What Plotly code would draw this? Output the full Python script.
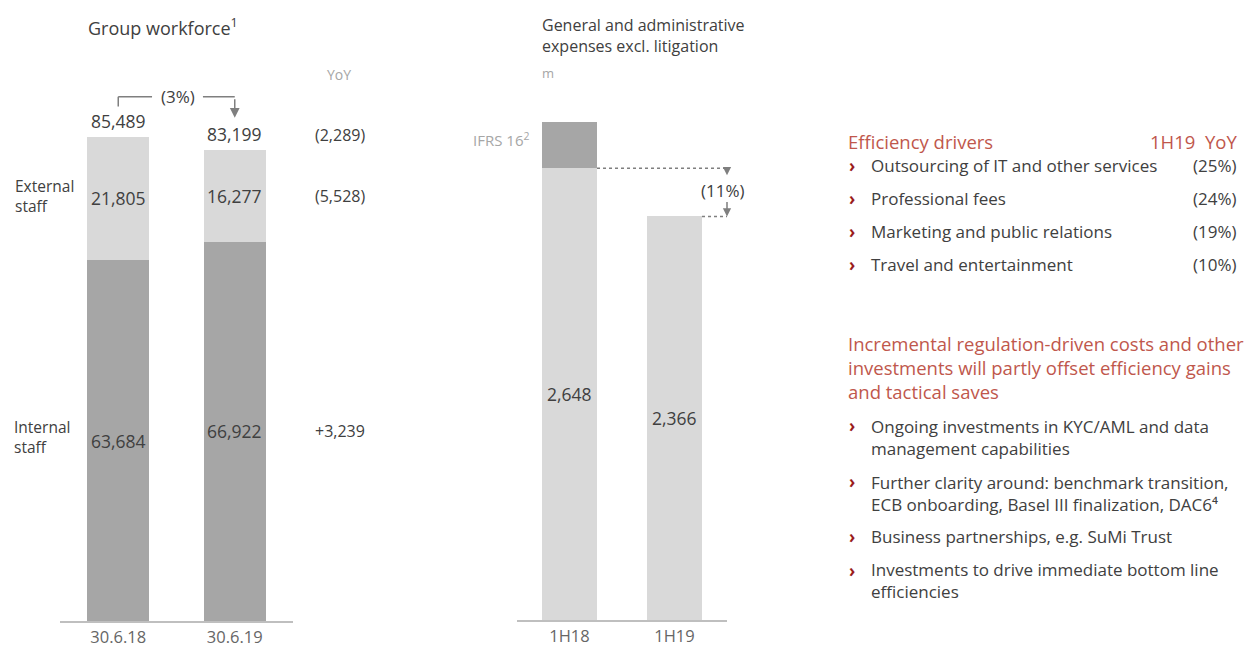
import plotly.graph_objects as go

# ---------------- data ----------------
dates = ["30.6.18", "30.6.19"]
internal_staff = [63684, 66922]
external_staff = [21805, 16277]
workforce_total = [85489, 83199]
workforce_yoy = ["(2,289)", "(5,528)", "+3,239"]
workforce_change = "(3%)"

periods = ["1H18", "1H19"]
ga_excl = [2648, 2366]
ifrs16 = [270, 0]
ga_change = "(11%)"

drivers = ["Outsourcing of IT and other services", "Professional fees",
           "Marketing and public relations", "Travel and entertainment"]
drivers_yoy = ["(25%)", "(24%)", "(19%)", "(10%)"]
offsets = ["Ongoing investments in KYC/AML and data<br>management capabilities",
           "Further clarity around: benchmark transition,<br>ECB onboarding, Basel III finalization, DAC6⁴",
           "Business partnerships, e.g. SuMi Trust",
           "Investments to drive immediate bottom line<br>efficiencies"]

# ---------------- style ----------------
W, H = 1244, 648
FONT = "Open Sans"
DARK = "#a6a6a6"
LIGHT = "#d9d9d9"
TXT = "#404040"
GREY = "#a6a6a6"
RED = "#c0574c"
BULLET = "#9b1c1c"
NUM = 17.5
BODY = 17
REDSZ = 18.5

def px(x):
    return x / W

def py(y):
    return 1 - y / H

fig = go.Figure()

BW1 = 0.53
fig.add_trace(go.Bar(x=dates, y=internal_staff, marker_color=DARK, width=BW1,
                     xaxis="x", yaxis="y", hoverinfo="skip", marker_line_width=0))
fig.add_trace(go.Bar(x=dates, y=external_staff, marker_color=LIGHT, width=BW1,
                     xaxis="x", yaxis="y", hoverinfo="skip", marker_line_width=0))

BW2 = 0.524
fig.add_trace(go.Bar(x=periods, y=ga_excl, marker_color=LIGHT, width=BW2,
                     xaxis="x2", yaxis="y2", hoverinfo="skip", marker_line_width=0))
fig.add_trace(go.Bar(x=periods, y=ifrs16, marker_color=DARK, width=BW2,
                     xaxis="x2", yaxis="y2", hoverinfo="skip", marker_line_width=0))

ann = []
shapes = []

def A(text, x, y, xref, yref, size=NUM, color=TXT, xanchor="center", yanchor="middle", align="center", **kw):
    ann.append(dict(text=text, x=x, y=y, xref=xref, yref=yref, showarrow=False,
                    font=dict(family=FONT, size=size, color=color),
                    xanchor=xanchor, yanchor=yanchor, align=align, **kw))

# ---- left chart labels ----
for i in range(2):
    A(f"{internal_staff[i]:,}", i, internal_staff[i] / 2, "x", "y")
    A(f"{external_staff[i]:,}", i, internal_staff[i] + external_staff[i] / 2, "x", "y")
    A(f"{workforce_total[i]:,}", i, workforce_total[i], "x", "y", yanchor="bottom", yshift=2)

# YoY column (placed in paper x, data y so it lines up with the 30.6.19 labels)
A(workforce_yoy[0], px(340), workforce_total[1], "paper", "y", size=16, yanchor="bottom", yshift=2)
A(workforce_yoy[1], px(340), internal_staff[1] + external_staff[1] / 2, "paper", "y", size=16)
A(workforce_yoy[2], px(340), internal_staff[1] / 2, "paper", "y", size=16)
A("YoY", px(339), max(workforce_total) * 1.128, "paper", "y", size=14, color=GREY)

A("External<br>staff", px(13), py(197), "paper", "paper", size=15.5, xanchor="left", align="left")
A("Internal<br>staff", px(12), py(438), "paper", "paper", size=15.5, xanchor="left", align="left")
A("Group workforce<sup>1</sup>", px(86), py(27), "paper", "paper", size=18, xanchor="left")

# bracket (3%)
yb = max(workforce_total) * 1.0823
ytick = max(workforce_total) * 1.062
line = dict(color="#7f7f7f", width=1.5)
shapes.append(dict(type="line", xref="x", yref="y", x0=0, x1=0, y0=ytick, y1=yb, line=line))
shapes.append(dict(type="line", xref="x", yref="y", x0=0, x1=0.29, y0=yb, y1=yb, line=line))
shapes.append(dict(type="line", xref="x", yref="y", x0=0.727, x1=1, y0=yb, y1=yb, line=line))
ann.append(dict(x=1, y=workforce_total[1] * 1.0677, xref="x", yref="y", ax=0, ay=-20,
                axref="pixel", ayref="pixel", showarrow=True, arrowhead=2, arrowsize=1.3,
                arrowwidth=1.5, arrowcolor="#7f7f7f", text="", standoff=0))
A(workforce_change, 0.51, yb, "x", "y", size=17)

# ---- middle chart labels ----
for i in range(2):
    A(f"{ga_excl[i]:,}", i, ga_excl[i] / 2, "x2", "y2")
A("IFRS 16<sup>2</sup>", -0.37, ga_excl[0] + ifrs16[0] * 0.62, "x2", "y2", size=15, color=GREY, xanchor="right")
A("General and administrative<br>expenses excl. litigation", px(540), py(36), "paper", "paper",
  size=16, xanchor="left", align="left")
A("m", px(540), py(73), "paper", "paper", size=13, color=GREY, xanchor="left")

dot = dict(color="#7f7f7f", width=1.5, dash="dot")
shapes.append(dict(type="line", xref="x2", yref="y2", x0=BW2 / 2, x1=1.5, y0=ga_excl[0], y1=ga_excl[0], line=dot))
shapes.append(dict(type="line", xref="x2", yref="y2", x0=1 + BW2 / 2, x1=1.5, y0=ga_excl[1], y1=ga_excl[1], line=dot))
ann.append(dict(x=1.5, y=ga_excl[0] * 0.985, xref="x2", yref="y2", ax=0, ay=-6,
                axref="pixel", ayref="pixel", showarrow=True, arrowhead=2, arrowsize=1.1,
                arrowwidth=1.5, arrowcolor="#7f7f7f", text="", standoff=0))
ann.append(dict(x=1.5, y=ga_excl[1], xref="x2", yref="y2", ax=0, ay=-16,
                axref="pixel", ayref="pixel", showarrow=True, arrowhead=2, arrowsize=1.1,
                arrowwidth=1.5, arrowcolor="#7f7f7f", text="", standoff=0))
A(ga_change, 1.46, (ga_excl[0] + ga_excl[1]) / 2 + 10, "x2", "y2", size=17)

# ---- right text ----
A("Efficiency drivers", px(846), py(142), "paper", "paper", size=REDSZ, color=RED, xanchor="left")
A("1H19  YoY", px(1239), py(142), "paper", "paper", size=REDSZ, color=RED, xanchor="right")
rows = [166, 199, 232, 265]
for t, v, y in zip(drivers, drivers_yoy, rows):
    A("<b>›</b>", px(847), py(y), "paper", "paper", size=BODY, color=BULLET, xanchor="left")
    A(t, px(869), py(y), "paper", "paper", size=BODY, xanchor="left")
    A(v, px(1239), py(y), "paper", "paper", size=BODY, xanchor="right")

A("Incremental regulation-driven costs and other<br>investments will partly offset efficiency gains<br>and tactical saves",
  px(846), py(369), "paper", "paper", size=REDSZ, color=RED, xanchor="left", align="left")
orow = [[427, 450], [483, 507], [538], [572, 593]]
for t, ys in zip(offsets, orow):
    A("<b>›</b>", px(847), py(ys[0]), "paper", "paper", size=BODY, color=BULLET, xanchor="left")
    A(t, px(869), py(sum(ys) / len(ys)), "paper", "paper", size=BODY, xanchor="left", align="left")

axis_common = dict(showgrid=False, zeroline=False, showline=True, linecolor="#bfbfbf", linewidth=2,
                   ticks="", tickfont=dict(family=FONT, size=16.5, color="#666666"), fixedrange=True)

fig.update_layout(
    width=W, height=H, margin=dict(l=0, r=0, t=0, b=0),
    paper_bgcolor="white", plot_bgcolor="white",
    barmode="stack", showlegend=False,
    xaxis=dict(domain=[px(60), px(293)], range=[-0.5, 1.5], type="category", anchor="y", **axis_common),
    yaxis=dict(domain=[1 - 623 / H, 1], range=[0, 109587], visible=False, fixedrange=True),
    xaxis2=dict(domain=[px(517), px(727)], range=[-0.5, 1.5], type="category", anchor="y2", **axis_common),
    yaxis2=dict(domain=[1 - 622 / H, 1], range=[0, 3635], visible=False, fixedrange=True),
    annotations=ann, shapes=shapes,
)

fig.write_html("out.html")
